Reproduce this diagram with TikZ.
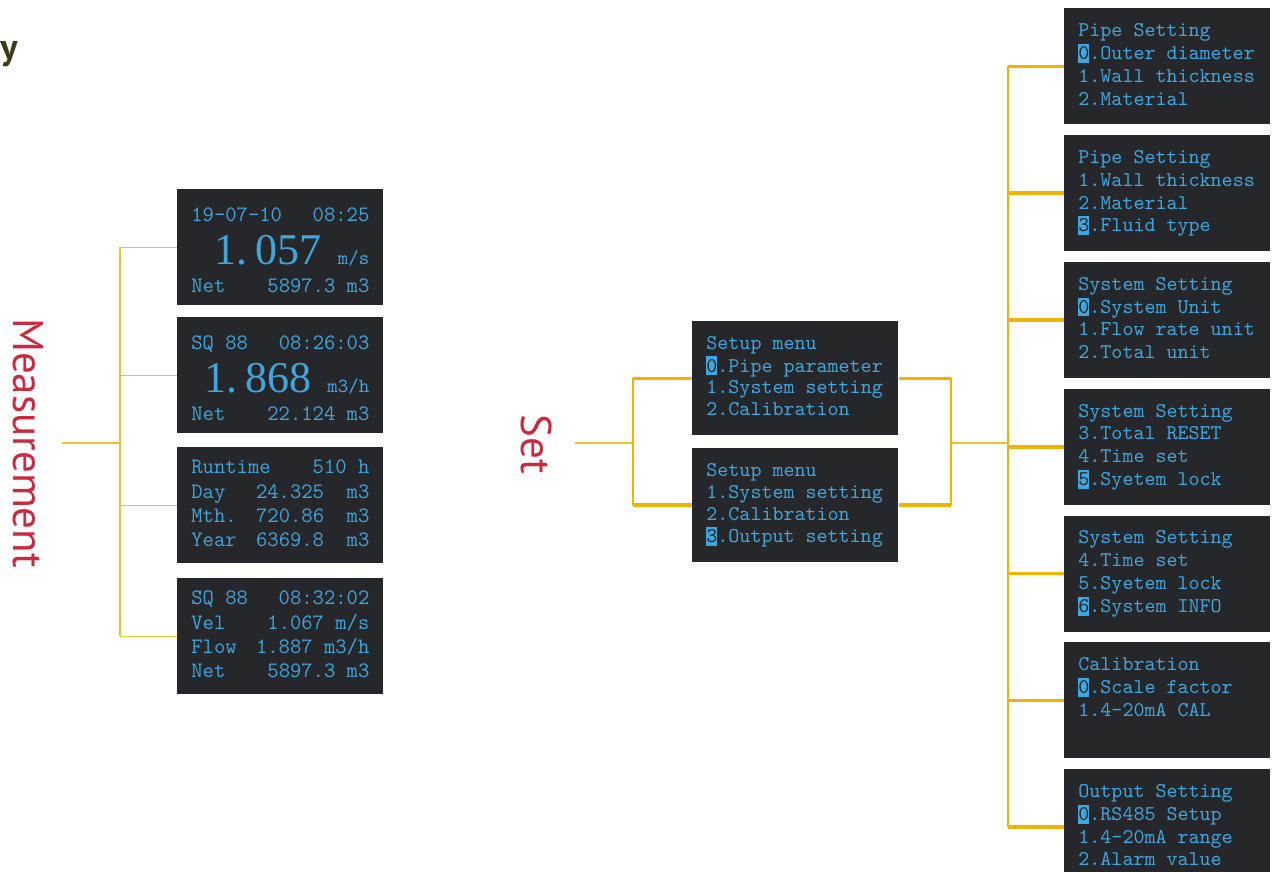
\documentclass[tikz,border=0pt]{standalone}
\usepackage{fontspec}
\usetikzlibrary{positioning}
\newfontfamily\secfont{PT Sans}
\newfontfamily\bignum{Liberation Serif}
\definecolor{scrbg}{HTML}{26272A}
\definecolor{scrtext}{HTML}{3FA6DE}
\definecolor{branch}{HTML}{F1B300}
\definecolor{trunk}{HTML}{F2C12A}
\definecolor{seclabel}{HTML}{C92A40}
\definecolor{corner}{HTML}{3B3A1C}
% one screen = stacked rows of fixed height
\newcommand{\screen}[1]{\vbox{\offinterlineskip #1}}
\newcommand{\scrrow}[2]{\hbox to 89pt{\strut #1\hfill #2}}
\newcommand{\scrline}[1]{\hbox to 89pt{\strut #1\hfill}}
\newcommand{\scrbig}[2]{\hbox to 89pt{\vrule height 17.8pt depth 5.5pt width 0pt\hfill{\bignum\fontsize{22}{22}\selectfont #1}\kern8pt{\fontsize{10}{10}\selectfont #2}}}
\newcommand{\selno}[1]{\makebox[0pt][l]{\color{scrtext}\rule[-1.6pt]{0.525em}{9.4pt}}\textcolor{scrbg}{#1}}
\tikzset{
  scrbox/.style={fill=scrbg, text=scrtext, inner sep=0pt, minimum width=103pt, minimum height=58pt},
  menubox/.style={scrbox, font=\ttfamily\fontsize{10.5}{11.4}\selectfont},
  setbox/.style={scrbox, minimum height=57pt, font=\ttfamily\fontsize{10.5}{10.9}\selectfont},
  measbox/.style={scrbox, font=\ttfamily\fontsize{11}{12.2}\selectfont},
  thinln/.style={draw=trunk, line width=0.8pt},
  vertln/.style={draw=branch, line width=1pt},
  thickln/.style={draw=branch, line width=1.8pt},
  seclbl/.style={text=seclabel, font=\secfont\fontsize{21.5}{21.5}\selectfont, rotate=-90, inner sep=0pt}
}
\begin{document}
\begin{tikzpicture}[x=0.5pt, y=-0.5pt]
\clip (0,0) rectangle (1274,872);
\node[text=corner, font=\secfont\bfseries\fontsize{18}{18}\selectfont, inner sep=0pt] (cut) at (9,54) {y};

% measurement screens
\node[seclbl] (measlbl) at (28,443) {Measurement};
\node[measbox, anchor=north west] (meas1) at (177,189) {\screen{\vskip4.7pt
  \scrrow{19-07-10}{08:25}
  \scrbig{1.\kern4pt 057}{m/s}
  \scrrow{Net}{5897.3 m3}}};
\node[measbox, anchor=north west] (meas2) at (177,317) {\screen{\vskip4.7pt
  \scrrow{SQ 88}{08:26:03}
  \scrbig{1.\kern4pt 868}{m3/h}
  \scrrow{Net}{22.124 m3}}};
\node[measbox, anchor=north west] (meas3) at (177,447) {\screen{
  \scrrow{Runtime}{510 h}
  \scrrow{Day}{24.325\ \ m3}
  \scrrow{Mth.}{720.86\ \ m3}
  \scrrow{Year}{6369.8\ \ m3}}};
\node[measbox, anchor=north west] (meas4) at (177,578) {\screen{
  \scrrow{SQ 88}{08:32:02}
  \scrrow{Vel}{1.067 m/s}
  \scrrow{Flow}{1.887 m3/h}
  \scrrow{Net}{5897.3 m3}}};
\coordinate (mstart) at (62,443);
\coordinate (mfork) at (120,443);
\draw[thinln] (mstart) -- (mfork);
\draw[thinln] (mfork |- meas1.west) -- (mfork |- meas4.west);
\foreach \b in {meas1,meas2,meas3,meas4}
  \draw[thinln] (mfork |- \b.west) -- (\b.west);

% setup menu
\node[seclbl] (setlbl) at (537,444) {Set};
\node[setbox, anchor=north west] (set1) at (692,321) {\screen{
  \scrline{Setup menu}
  \scrline{\selno{0}.Pipe parameter}
  \scrline{1.System setting}
  \scrline{2.Calibration}}};
\node[setbox, below=6pt of set1] (set2) {\screen{
  \scrline{Setup menu}
  \scrline{1.System setting}
  \scrline{2.Calibration}
  \scrline{\selno{3}.Output setting}}};
\coordinate (sstart) at (575,443);
\coordinate (sfork) at (633,443);
\draw[thinln] (sstart) -- (sfork);
\draw[vertln] (sfork |- set1.west) -- (sfork |- set2.west);
\foreach \b in {set1,set2}
  \draw[thickln] (sfork |- \b.west) -- (\b.west);

% sub menus
\node[menubox, anchor=north west] (pipe1) at (1064,8) {\screen{
  \scrline{Pipe Setting}
  \scrline{\selno{0}.Outer diameter}
  \scrline{1.Wall thickness}
  \scrline{2.Material}}};
\node[menubox, below=5pt of pipe1] (pipe2) {\screen{
  \scrline{Pipe Setting}
  \scrline{1.Wall thickness}
  \scrline{2.Material}
  \scrline{\selno{3}.Fluid type}}};
\node[menubox, below=5pt of pipe2] (sys1) {\screen{
  \scrline{System Setting}
  \scrline{\selno{0}.System Unit}
  \scrline{1.Flow rate unit}
  \scrline{2.Total unit}}};
\node[menubox, below=5pt of sys1] (sys2) {\screen{
  \scrline{System Setting}
  \scrline{3.Total RESET}
  \scrline{4.Time set}
  \scrline{\selno{5}.Syetem lock}}};
\node[menubox, below=5pt of sys2] (sys3) {\screen{
  \scrline{System Setting}
  \scrline{4.Time set}
  \scrline{5.Syetem lock}
  \scrline{\selno{6}.System INFO}}};
\node[menubox, below=5pt of sys3] (cal1) {\screen{
  \scrline{Calibration}
  \scrline{\selno{0}.Scale factor}
  \scrline{1.4-20mA CAL}
  \scrline{}}};
\node[menubox, below=5pt of cal1] (out1) {\screen{
  \scrline{Output Setting}
  \scrline{\selno{0}.RS485 Setup}
  \scrline{1.4-20mA range}
  \scrline{2.Alarm value}}};
\coordinate (jfork) at (951,443);
\coordinate (rfork) at (1008,443);
\foreach \b in {set1,set2}
  \draw[thickln] (\b.east) -- (jfork |- \b.east);
\draw[vertln] (jfork |- set1.east) -- (jfork |- set2.east);
\draw[thinln] (jfork) -- (rfork);
\draw[vertln] (rfork |- pipe1.west) -- (rfork |- out1.west);
\foreach \b in {pipe1,pipe2,sys1,sys2,sys3,cal1,out1}
  \draw[thickln] (rfork |- \b.west) -- (\b.west);
\end{tikzpicture}
\end{document}
